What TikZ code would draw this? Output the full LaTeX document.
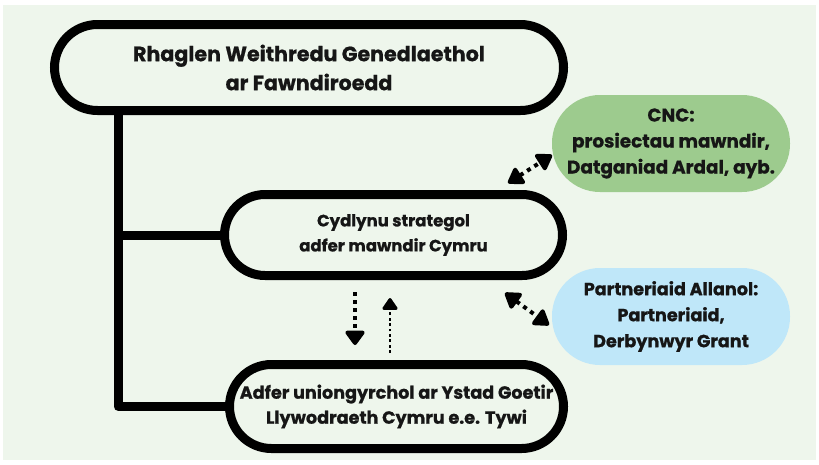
\documentclass[tikz,border=0pt]{standalone}
\usepackage{fontspec}
\setmainfont{Poppins}[BoldFeatures={FakeBold=0.8}]
\usetikzlibrary{arrows.meta}
\definecolor{bgmint}{HTML}{EEF6EC}
\definecolor{cncgreen}{HTML}{9DCB8E}
\definecolor{partblue}{HTML}{BFE7F9}
\definecolor{inkdark}{HTML}{161616}

\begin{document}
\begin{tikzpicture}[x=1pt, y=-1pt, line width=9pt,
  pill/.style={draw=black, fill=bgmint, rectangle, align=center, outer sep=0pt, text=inkdark},
  tag/.style={rectangle, align=center, outer sep=0pt, text=inkdark, minimum width=238pt, minimum height=97pt, rounded corners=48pt},
  dots/.style={line width=4pt, dash pattern=on 4pt off 4.5pt, {Triangle[length=17pt,width=21pt,round]}-{Triangle[length=17pt,width=21pt,round]}},
  downdots/.style={line width=4pt, dash pattern=on 4pt off 4pt, -{Triangle[length=16pt,width=22pt,round]}},
  finedots/.style={line width=2.8pt, dash pattern=on 2.8pt off 2.6pt, -{Triangle[length=13pt,width=17pt,round]}}]
  \useasboundingbox (0,0) rectangle (819,464);
  \fill[white] (0,0) rectangle (819,464);
  \fill[bgmint] (3,5) rectangle (816,460);

  \node[pill, minimum width=509pt, minimum height=86pt, rounded corners=43pt,
        font=\fontsize{20.6}{29}\selectfont\bfseries] (prog) at (309,67.5)
        {Rhaglen Weithredu Genedlaethol\\ar Fawndiroedd};
  \node[pill, minimum width=338pt, minimum height=81pt, rounded corners=40.5pt,
        font=\fontsize{16.5}{25}\selectfont\bfseries] (cyd) at (393.5,235)
        {Cydlynu strategol\\adfer mawndir Cymru};
  \node[pill, minimum width=334pt, minimum height=84pt, rounded corners=42pt,
        font=\fontsize{17.6}{25}\selectfont\bfseries] (adf) at (396.5,406.5)
        {Adfer uniongyrchol ar Ystad Goetir\\Llywodraeth Cymru e.e. Tywi};
  \node[tag, fill=cncgreen, font=\fontsize{18.4}{26}\selectfont\bfseries] (cnc) at (671,143.5)
        {CNC:\\prosiectau mawndir,\\Datganiad Ardal, ayb.};
  \node[tag, fill=partblue, font=\fontsize{17.6}{26}\selectfont\bfseries] (part) at (671,316.5)
        {Partneriaid Allanol:\\Partneriaid,\\Derbynwyr Grant};

  % tree from the programme down
  \draw[line join=round] ([xshift=-191pt]prog.south) |- (cyd.west);
  \draw[line join=round] ([xshift=-191pt]prog.south) |- (adf.west);

  % links to partners
  \draw[dots] ([xshift=-54.5pt,yshift=11.5pt]cyd.north east) -- ([yshift=-11.5pt]cnc.west);
  \draw[dots] ([xshift=-57.5pt,yshift=-17.5pt]cyd.south east) -- ([xshift=-3pt,yshift=-8.5pt]part.west);

  % between coordination and direct restoration
  \draw[downdots] ([xshift=-38.5pt,yshift=-16.5pt]cyd.south) -- ([xshift=-41.5pt,yshift=19.5pt]adf.north);
  \draw[finedots] ([xshift=-6.5pt,yshift=11.5pt]adf.north) -- ([xshift=-3.5pt,yshift=-22.5pt]cyd.south);
\end{tikzpicture}
\end{document}
